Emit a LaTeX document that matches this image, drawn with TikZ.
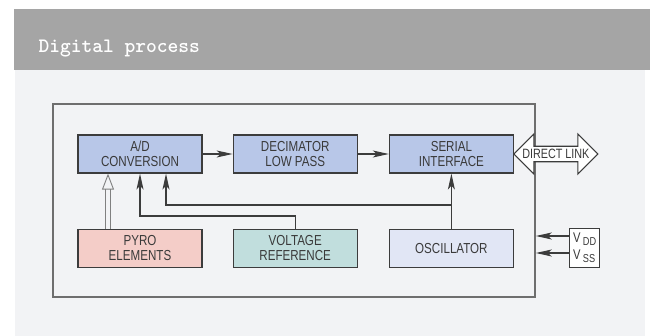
\documentclass[tikz,border=0pt]{standalone}
\usepackage{fontspec}
\usepackage{xcolor}
\newfontfamily\blockfont[FakeStretch=0.8]{Liberation Sans}
\usetikzlibrary{positioning, arrows.meta, shapes.arrows}

\definecolor{headgray}{HTML}{A5A5A5}
\definecolor{panelbg}{HTML}{F2F3F5}
\definecolor{boxline}{HTML}{3C3C3C}
\definecolor{framegray}{HTML}{6E6E6E}
\definecolor{txt}{HTML}{3A3A3A}
\definecolor{dspblue}{HTML}{B8C7E8}
\definecolor{pyrored}{HTML}{F4CDC8}
\definecolor{refgreen}{HTML}{C1DEDD}
\definecolor{oscblue}{HTML}{E1E6F5}

\begin{document}
\begin{tikzpicture}[x=1pt, y=-1pt,
    blk/.style={draw=boxline, line width=1.2pt, minimum width=124pt, minimum height=38pt,
      inner sep=0pt, align=center, text=txt, font=\blockfont\fontsize{14.5}{15.5}\selectfont},
    arr/.style={draw=boxline, line width=1.1pt, -{Stealth[length=16pt, width=7pt, inset=4pt]}},
    link/.style={shape=double arrow, draw=boxline, fill=white, line width=1.2pt,
      minimum height=84pt, minimum width=40pt, double arrow head extend=10pt,
      inner xsep=-8pt, inner ysep=1pt, text=txt, font=\blockfont\fontsize{13.5}{15}\selectfont}]

    % page, title bar and panel
    \fill[white] (0,0) rectangle (650,336);
    \fill[headgray] (14,9) rectangle (650,70);
    \fill[panelbg] (15,70) rectangle (645,336);
    \node[anchor=west, text=white, font=\ttfamily\bfseries\fontsize{20.5}{22}\selectfont] (title) at (35,49) {Digital process};

    % chip outline
    \node[draw=framegray, line width=1.6pt, minimum width=482pt, minimum height=193pt] (chip) at (294,200.5) {};

    % blocks
    \node[blk, fill=dspblue] (ad) at (140,154) {A/D\\CONVERSION};
    \node[blk, fill=dspblue] (dec) [right=30pt of ad] {DECIMATOR\\LOW PASS};
    \node[blk, fill=dspblue] (ser) [right=31pt of dec] {SERIAL\\INTERFACE};
    \node[blk, fill=pyrored] (pyro) [below=55pt of ad] {PYRO\\ELEMENTS};
    \node[blk, fill=refgreen] (vref) [below=55pt of dec] {VOLTAGE\\REFERENCE};
    \node[blk, fill=oscblue] (osc) [below=55pt of ser] {OSCILLATOR};
    \node[link] (dlink) [right=-1pt of ser] {DIRECT LINK};
    \node[draw=boxline, line width=1.2pt, fill=white, minimum width=30pt, minimum height=39pt,
      inner sep=1pt, align=left, text=txt, font=\blockfont\fontsize{14}{17}\selectfont]
      (supply) [right=55pt of osc] {V\,\raisebox{-3pt}{\fontsize{11.5}{11}\selectfont DD}\\V\,\raisebox{-3pt}{\fontsize{11.5}{11}\selectfont SS}};

    % signal path
    \draw[arr] (ad) -- (dec);
    \draw[arr] (dec) -- (ser);
    \draw[draw=gray, line width=0.9pt, double=panelbg, double distance=3.5pt,
      -{Triangle[open, length=16pt, width=12pt]}] ([xshift=-32pt]pyro.north) -- ([xshift=-32pt]ad.south);
    \draw[arr] (vref.north) -- (vref.north |- 0,216) -| (ad.south);
    \draw[arr] (osc.north) -- (ser.south);
    \draw[arr] (osc.north |- 0,205) -| ([xshift=26pt]ad.south);

    % supply pins
    \draw[arr] (supply.west |- 0,236) -- (chip.east |- 0,236);
    \draw[arr] (supply.west |- 0,253) -- (chip.east |- 0,253);
\end{tikzpicture}
\end{document}
